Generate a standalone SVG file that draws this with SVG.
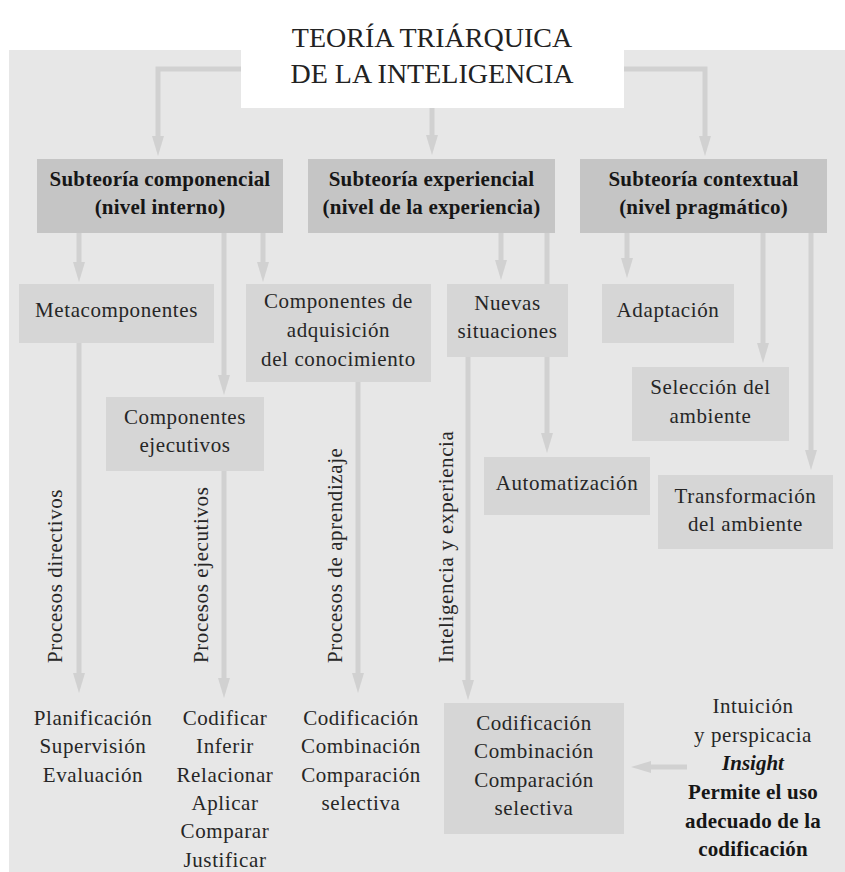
<svg xmlns="http://www.w3.org/2000/svg" width="845" height="872" viewBox="0 0 845 872">
<style>
text{font-family:Liberation Serif, Tinos, Times New Roman, Times, DejaVu Serif, Noto Serif, serif;fill:#262626;text-anchor:middle}
.t{font-size:28px;fill:#222}
.n{font-size:21px;letter-spacing:0.6px}
.b{font-size:21px;font-weight:bold;fill:#161616;letter-spacing:0.2px}
.bi{font-size:21px;font-weight:bold;font-style:italic;fill:#161616}
.r{font-size:21px;letter-spacing:0.6px;text-anchor:start}
.k1{fill:#c5c5c5}
.k2{fill:#d6d6d6}
.c{fill:none;stroke:#d1d1d1;stroke-width:5;marker-end:url(#ah)}
</style>
<defs>
<marker id="ah" viewBox="0 0 20 12" refX="8" refY="6" markerWidth="20" markerHeight="12" markerUnits="userSpaceOnUse" orient="auto">
<path d="M0,0 L20,6 L0,12 Z" fill="#d1d1d1"/>
</marker>
</defs>
<rect x="0" y="0" width="845" height="872" fill="#ffffff"/>
<rect x="9" y="50" width="836" height="822" fill="#e7e7e7"/>

<g id="connectors">
<path class="c" d="M241,69 H158 V144"/>
<path class="c" d="M432,108 V143"/>
<path class="c" d="M624,69 H705 V144"/>
<path class="c" d="M79,233 V270"/>
<path class="c" d="M224,233 V383"/>
<path class="c" d="M263,233 V270"/>
<path class="c" d="M501,233 V268"/>
<path class="c" d="M547,233 V441"/>
<path class="c" d="M627,233 V266"/>
<path class="c" d="M763,233 V351"/>
<path class="c" d="M811,233 V458"/>
<path class="c" d="M79,343 V681"/>
<path class="c" d="M224,471 V686"/>
<path class="c" d="M358,382 V681"/>
<path class="c" d="M468,357 V688"/>
<path class="c" d="M687,767 H643"/>
</g>

<g id="title">
<rect x="241" y="12" width="383" height="96" fill="#ffffff"/>
<text class="t" x="432" y="47">TEORÍA TRIÁRQUICA</text>
<text class="t" x="432" y="83">DE LA INTELIGENCIA</text>
</g>

<g id="sub-componencial">
<rect class="k1" x="37" y="159" width="246" height="74"/>
<text class="b" x="160" y="186">Subteoría componencial</text>
<text class="b" x="160" y="214">(nivel interno)</text>
</g>
<g id="sub-experiencial">
<rect class="k1" x="308" y="159" width="247" height="74"/>
<text class="b" x="431.5" y="186">Subteoría experiencial</text>
<text class="b" x="431.5" y="214">(nivel de la experiencia)</text>
</g>
<g id="sub-contextual">
<rect class="k1" x="580" y="159" width="247" height="74"/>
<text class="b" x="703.5" y="186">Subteoría contextual</text>
<text class="b" x="703.5" y="214">(nivel pragmático)</text>
</g>

<g id="metacomponentes">
<rect class="k2" x="19" y="284" width="195" height="59"/>
<text class="n" x="116.5" y="317">Metacomponentes</text>
</g>
<g id="adquisicion">
<rect class="k2" x="246" y="284" width="185" height="98"/>
<text class="n" x="338.5" y="308">Componentes de</text>
<text class="n" x="338.5" y="337">adquisición</text>
<text class="n" x="338.5" y="366">del conocimiento</text>
</g>
<g id="ejecutivos">
<rect class="k2" x="106" y="397" width="158" height="74"/>
<text class="n" x="185" y="424">Componentes</text>
<text class="n" x="185" y="452">ejecutivos</text>
</g>
<g id="nuevas">
<rect class="k2" x="447" y="284" width="121" height="73"/>
<text class="n" x="507.5" y="310">Nuevas</text>
<text class="n" x="507.5" y="338">situaciones</text>
</g>
<g id="automatizacion">
<rect class="k2" x="484" y="457" width="166" height="58"/>
<text class="n" x="567" y="490">Automatización</text>
</g>
<g id="adaptacion">
<rect class="k2" x="602" y="284" width="132" height="59"/>
<text class="n" x="668" y="317">Adaptación</text>
</g>
<g id="seleccion">
<rect class="k2" x="632" y="367" width="157" height="74"/>
<text class="n" x="710.5" y="394">Selección del</text>
<text class="n" x="710.5" y="423">ambiente</text>
</g>
<g id="transformacion">
<rect class="k2" x="658" y="475" width="175" height="74"/>
<text class="n" x="745.5" y="503">Transformación</text>
<text class="n" x="745.5" y="531">del ambiente</text>
</g>

<g id="labels">
<text class="r" transform="translate(62,663) rotate(-90)" x="0" y="0">Procesos directivos</text>
<text class="r" transform="translate(208,663) rotate(-90)" x="0" y="0">Procesos ejecutivos</text>
<text class="r" transform="translate(342,663) rotate(-90)" x="0" y="0">Procesos de aprendizaje</text>
<text class="r" transform="translate(453,663) rotate(-90)" x="0" y="0">Inteligencia y experiencia</text>
</g>

<g id="directivos-list">
<text class="n" x="93" y="725">Planificación</text>
<text class="n" x="93" y="753">Supervisión</text>
<text class="n" x="93" y="782">Evaluación</text>
</g>
<g id="ejecutivos-list">
<text class="n" x="225" y="725">Codificar</text>
<text class="n" x="225" y="753">Inferir</text>
<text class="n" x="225" y="782">Relacionar</text>
<text class="n" x="225" y="810">Aplicar</text>
<text class="n" x="225" y="838">Comparar</text>
<text class="n" x="225" y="867">Justificar</text>
</g>
<g id="aprendizaje-list">
<text class="n" x="361" y="725">Codificación</text>
<text class="n" x="361" y="753">Combinación</text>
<text class="n" x="361" y="782">Comparación</text>
<text class="n" x="361" y="810">selectiva</text>
</g>
<g id="codificacion-box">
<rect class="k2" x="444" y="703" width="180" height="131"/>
<text class="n" x="534" y="730">Codificación</text>
<text class="n" x="534" y="758">Combinación</text>
<text class="n" x="534" y="787">Comparación</text>
<text class="n" x="534" y="815">selectiva</text>
</g>
<g id="insight">
<text class="n" x="753" y="713">Intuición</text>
<text class="n" x="753" y="742">y perspicacia</text>
<text class="bi" x="753" y="770">Insight</text>
<text class="b" x="753" y="799">Permite el uso</text>
<text class="b" x="753" y="828">adecuado de la</text>
<text class="b" x="753" y="856">codificación</text>
</g>
</svg>
